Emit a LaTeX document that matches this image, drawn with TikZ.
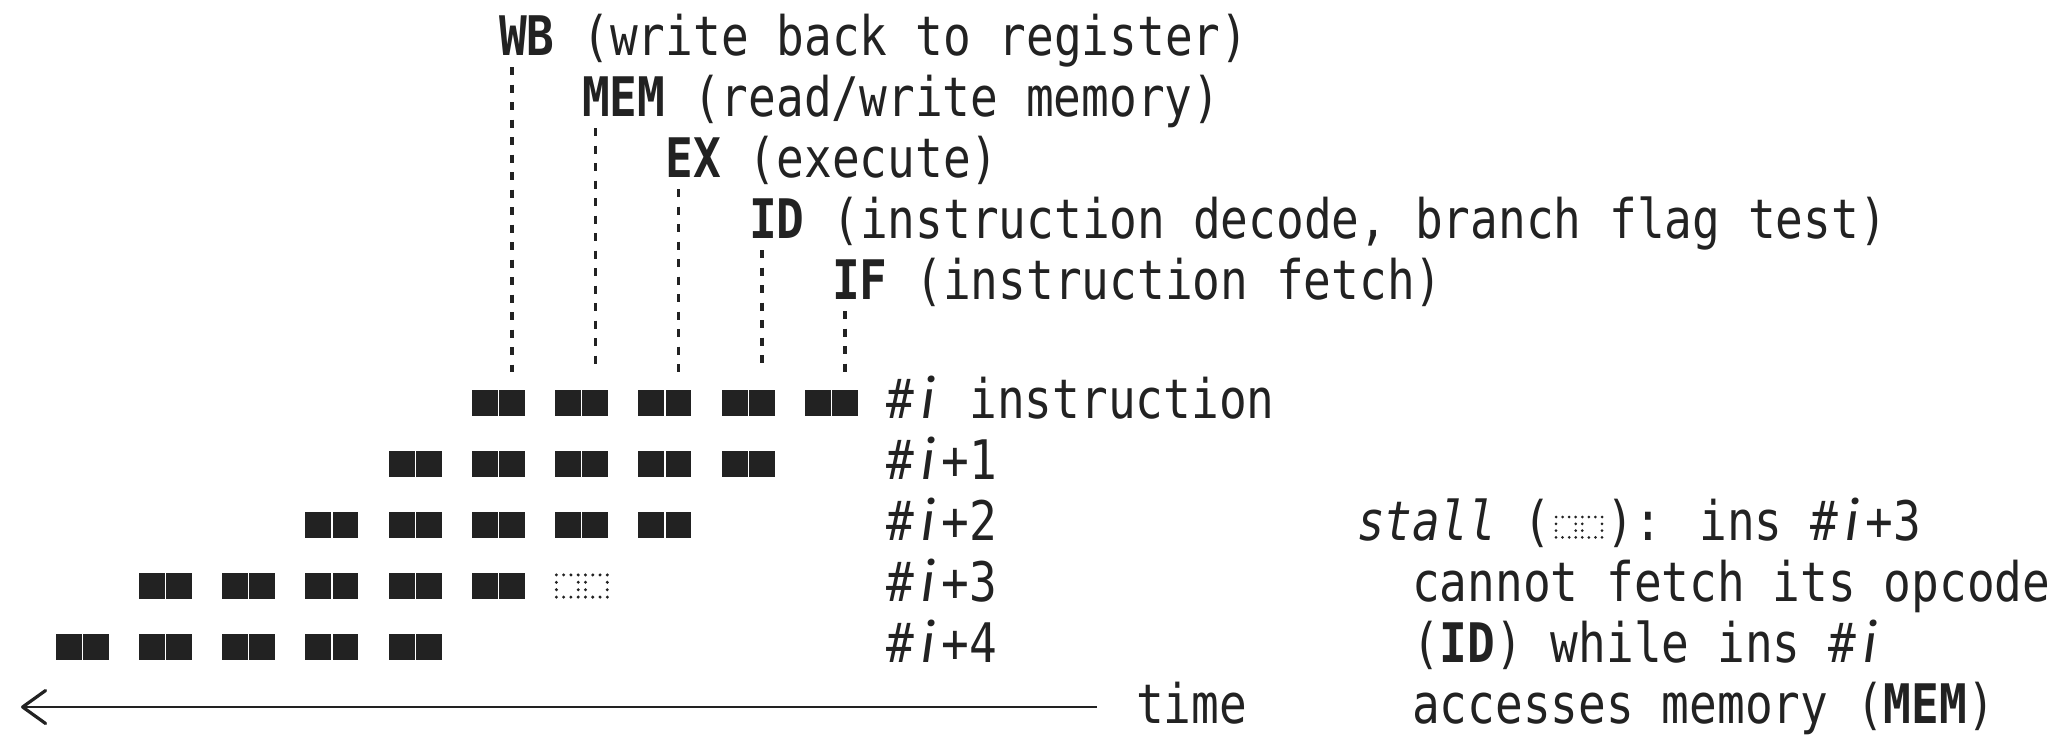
\documentclass[tikz,border=0pt]{standalone}
\usepackage{fontspec}
\usetikzlibrary{arrows.meta}
\newfontfamily\pf{DejaVu Sans Mono}[FakeStretch=0.8457]
\newfontfamily\fira{Fira Sans}
\definecolor{ink}{HTML}{222222}
\newlength\chw
\newcommand\ii{\settowidth{\chw}{x}\makebox[\chw][c]{\fira\itshape i}}
\newcommand\stalldots[5]{%
  \foreach \c in {0,...,7}{%
    \fill[ink] ({#1+\c*#3},{#2}) circle (#5pt);
    \fill[ink] ({#1+\c*#3},{#2+3*#4}) circle (#5pt);}%
  \foreach \c in {0,3,4,7}{\foreach \r in {1,2}{%
    \fill[ink] ({#1+\c*#3},{#2+\r*#4}) circle (#5pt);}}%
}
\begin{document}
\begin{tikzpicture}[x=1pt,y=-1pt,
  txt/.style={font=\pf\fontsize{54.5}{61}\selectfont, text=ink, inner sep=0pt, anchor=base west},
  sq/.style={fill=ink, draw=none, inner sep=0pt, minimum width=25.8pt, minimum height=26pt, anchor=north west},
  stallbox/.style={draw=none, inner sep=0pt, minimum width=53pt, minimum height=26pt, anchor=north west},
  guide/.style={draw=ink, line width=3.6pt, dash pattern=on 8pt off 9.5pt},
  arr/.style={draw=ink, line width=2.4pt, -{Straight Barb[length=23pt,width=33pt,line width=3.2pt,round]}}]
\useasboundingbox (0,0) rectangle (2071,736);

% blocks
\foreach \r/\ks in {1/{5,...,9},2/{4,...,8},3/{3,...,7},4/{1,...,5},5/{0,...,4}}{
  \foreach \k in \ks {
    \node[sq] (r\r-\k-a) at ({55.5+83.25*\k},{390+61*(\r-1)}) {};
    \node[sq] (r\r-\k-b) at ({55.5+83.25*\k+27.2},{390+61*(\r-1)}) {};
  }
}
% stall in row 4
\node[stallbox] (r4-6-s) at (555,573) {};
\stalldots{556.4}{574.9}{7.27}{7.4}{1.65}

% stage labels
\node[txt] (wb)  at (499,55)    {\textbf{WB} (write back to register)};
\node[txt] (mem) at (582,116)   {\textbf{MEM} (read/write memory)};
\node[txt] (ex)  at (665.5,177) {\textbf{EX} (execute)};
\node[txt] (id)  at (749,238)   {\textbf{ID} (instruction decode, branch flag test)};
\node[txt] (if)  at (832,299)   {\textbf{IF} (instruction fetch)};

% guide lines
\foreach \l/\k in {wb/5,mem/6,ex/7,id/8,if/9}{
  \path (r1-\k-b.north |- \l.base) ++(0,12) coordinate (g-\l);
  \draw[guide] (g-\l) -- ([yshift=18pt]r1-\k-b.north);
}

% row labels
\node[txt] (l1) at (886,418) {\#\ii{} instruction};
\node[txt] (l2) at (886,479) {\#\ii+1};
\node[txt] (l3) at (886,540) {\#\ii+2};
\node[txt] (l4) at (886,601) {\#\ii+3};
\node[txt] (l5) at (886,662) {\#\ii+4};

% time arrow
\coordinate (tstart) at (1097,707);
\coordinate (tend) at (21,707);
\draw[arr] (tstart) -- (tend);
\node[txt] (time) at (1136,723) {time};

% explanation
\node[txt] (s1) at (1357,540) {\textit{stall} (\phantom{xx}): ins \#\ii+3};
\node[txt] (s2) at (1412,601) {cannot fetch its opcode};
\node[txt] (s3) at (1412,662) {(\textbf{ID}) while ins \#\ii};
\node[txt] (s4) at (1412,723) {accesses memory (\textbf{MEM})};
\stalldots{1556}{517}{6.57}{6.8}{1.5}
\end{tikzpicture}
\end{document}
